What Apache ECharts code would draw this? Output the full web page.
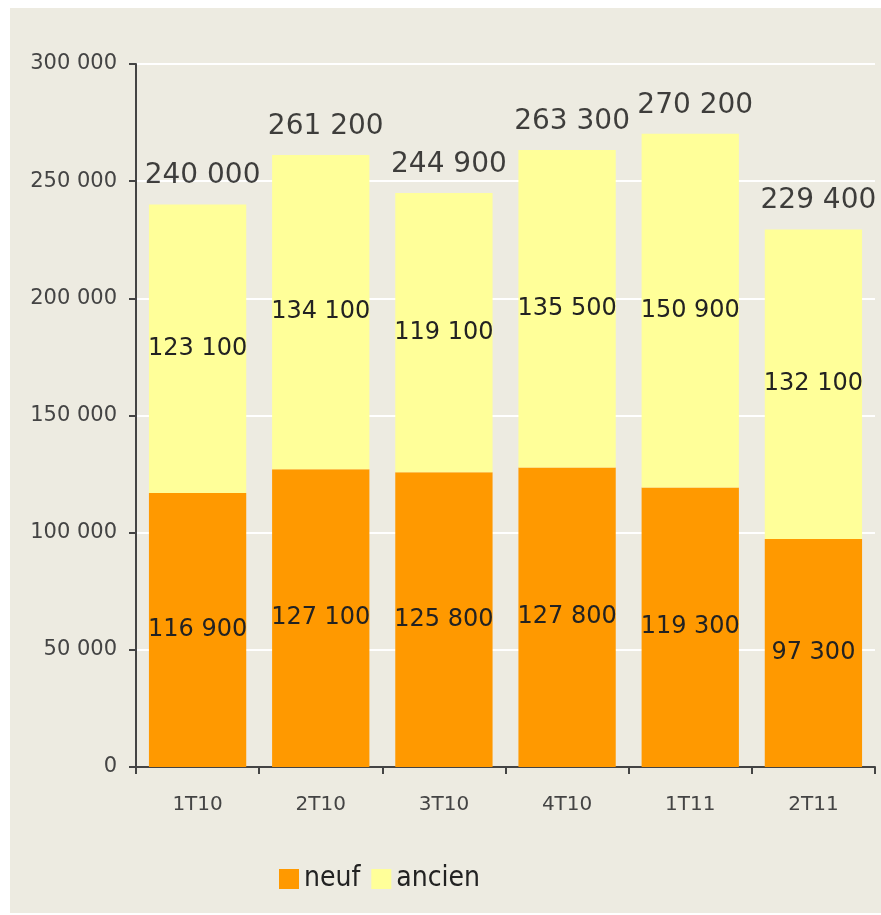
<!DOCTYPE html>
<html>
<head>
<meta charset="utf-8">
<script src="https://cdn.jsdelivr.net/npm/echarts@6/dist/echarts.min.js"></script>
<style>
html,body{margin:0;padding:0;background:#ffffff;}
#panel{position:absolute;left:10px;top:8px;width:871px;height:905px;background:#EDEBE1;}
#chart{position:absolute;left:0;top:0;width:881px;height:915px;}
</style>
</head>
<body>
<div id="panel"></div>
<div id="chart"></div>
<script>
const categories = ['1T10','2T10','3T10','4T10','1T11','2T11'];
const neuf = [116900,127100,125800,127800,119300,97300];
const ancien = [123100,134100,119100,135500,150900,132100];
const totals = [240000,261200,244900,263300,270200,229400];
const yTicks = [0,50000,100000,150000,200000,250000,300000];

function fmt(v){ return String(v).replace(/\B(?=(\d{3})+(?!\d))/g,' '); }

const chart = echarts.init(document.getElementById('chart'), null, {renderer:'canvas'});
const font = 'DejaVu Sans';
chart.setOption({
  backgroundColor:'transparent',
  animation:false,
  grid:{left:136,right:6,top:64,bottom:148,containLabel:false},
  legend:{
    data:['neuf','ancien'], left:274, top:860, itemWidth:20, itemHeight:20, itemGap:11,
    icon:'rect',
    textStyle:{fontFamily:'Liberation Sans Narrow, DejaVu Sans Condensed, sans-serif',fontSize:28,color:'#222'}
  },
  xAxis:{
    type:'category', data:categories,
    axisLine:{lineStyle:{color:'#444',width:2}},
    axisTick:{show:true,length:7,lineStyle:{color:'#444',width:2}},
    axisLabel:{fontFamily:font,fontSize:20,color:'#444',margin:28}
  },
  yAxis:{
    type:'value', min:yTicks[0], max:yTicks[yTicks.length-1], interval:50000,
    axisLine:{show:true,lineStyle:{color:'#444',width:2}},
    axisTick:{show:true,length:7,lineStyle:{color:'#444',width:2}},
    splitLine:{show:true,lineStyle:{color:'#ffffff',width:2}},
    axisLabel:{fontFamily:font,fontSize:21,color:'#444',margin:19,formatter:fmt}
  },
  series:[
    {name:'neuf',type:'bar',stack:'t',data:neuf,barCategoryGap:'21%',
     itemStyle:{color:'#FF9900'},
     label:{show:true,position:'inside',fontFamily:font,fontSize:24,color:'#222',formatter:p=>fmt(p.value)}},
    {name:'ancien',type:'bar',stack:'t',data:ancien,barCategoryGap:'21%',
     itemStyle:{color:'#FFFF99'},
     label:{show:true,position:'inside',fontFamily:font,fontSize:24,color:'#222',formatter:p=>fmt(p.value)}},
    {name:'total',type:'scatter',data:totals,symbolSize:1,itemStyle:{color:'rgba(0,0,0,0)'},
     label:{show:true,position:'top',distance:14,offset:[5,0],fontFamily:font,fontSize:28,color:'#111',formatter:p=>fmt(p.value)}}
  ]
});
</script>
</body>
</html>
